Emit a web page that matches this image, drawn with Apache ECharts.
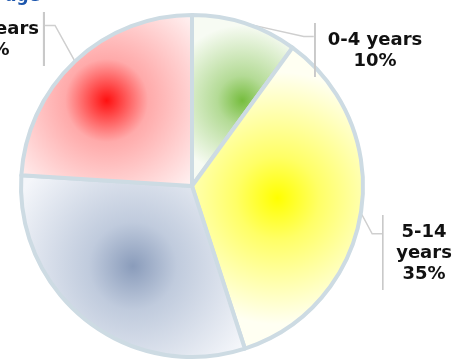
<!DOCTYPE html>
<html>
<head>
<meta charset="utf-8">
<script src="https://cdn.jsdelivr.net/npm/echarts@6/dist/echarts.min.js"></script>
<style>
  html, body { margin: 0; padding: 0; background: #fff; }
  #main { width: 454px; height: 363px; }
</style>
</head>
<body>
<div id="main"></div>
<script>
// data
var ageGroups = ['0-4 years', '5-14 years', '15-64 years', '65+ years'];
var shares = [10, 35, 31, 24];
var innerColors = ['#76bd3e', '#ffff00', '#8a9cbb', '#ff1010'];
var midColors = ['#b4db96', '#ffff66', '#c0cbdd', '#ffaaaa'];
var outerColors = ['#f7fbf3', '#fffff2', '#f4f6fa', '#fff8f8'];

// where each label's text sits (center x, top y) and which side its bracket is on
var labelSpot = [[375, 30], [424, 222], [-160, 300], [-12, 19]];
var bracketSide = ['left', 'left', 'right', 'right'];

// little canvas used as label background: a thin grey stroke on one side
function bracket(side) {
  var c = document.createElement('canvas');
  c.width = 100; c.height = 100;
  var g = c.getContext('2d');
  g.fillStyle = '#c9c9c9';
  g.fillRect(side === 'left' ? 0 : 98, 0, 2, 100);
  return c;
}

var pads = {
  left: [7, 0, 5, 14],
  right: [7, 6, 5, 0]
};

var myChart = echarts.init(document.getElementById('main'));

var option = {
  animation: false,
  title: {
    text: 'age',
    left: 0,
    top: -17,
    textStyle: { color: '#1c56ad', fontSize: 17, fontWeight: 'bold', fontFamily: 'DejaVu Sans' }
  },
  series: [{
    type: 'pie',
    center: [192, 186],
    radius: 171,
    startAngle: 90,
    clockwise: true,
    avoidLabelOverlap: false,
    itemStyle: { borderColor: '#cddbe3', borderWidth: 4 },
    label: {
      show: true,
      position: 'outside',
      color: '#111',
      fontFamily: 'DejaVu Sans',
      fontWeight: 'bold',
      fontSize: 18,
      lineHeight: 21,
      align: 'center',
      formatter: function (p) {
        var n = p.dataIndex === 1 ? p.name.replace(' ', '\n') : p.name;
        return n + '\n' + p.value + '%';
      }
    },
    labelLine: {
      show: true,
      length: 10,
      length2: 10,
      lineStyle: { color: '#cfcfcf', width: 1.5 }
    },
    labelLayout: function (p) {
      var s = labelSpot[p.dataIndex];
      var pad = pads[bracketSide[p.dataIndex]];
      return {
        x: s[0] - (pad[3] - pad[1]) / 2,
        y: s[1] - pad[0],
        align: 'center',
        verticalAlign: 'top'
      };
    },
    emphasis: { disabled: true },
    data: ageGroups.map(function (name, i) {
      return {
        name: name,
        value: shares[i],
        itemStyle: {
          color: new echarts.graphic.RadialGradient(0.5, 0.5, 0.72, [
            { offset: 0, color: innerColors[i] },
            { offset: 0.33, color: midColors[i] },
            { offset: 1, color: outerColors[i] }
          ])
        },
        label: {
          padding: pads[bracketSide[i]],
          backgroundColor: { image: bracket(bracketSide[i]) }
        },
        labelLine: { show: i !== 2 }
      };
    })
  }]
};

myChart.setOption(option);
</script>
</body>
</html>
